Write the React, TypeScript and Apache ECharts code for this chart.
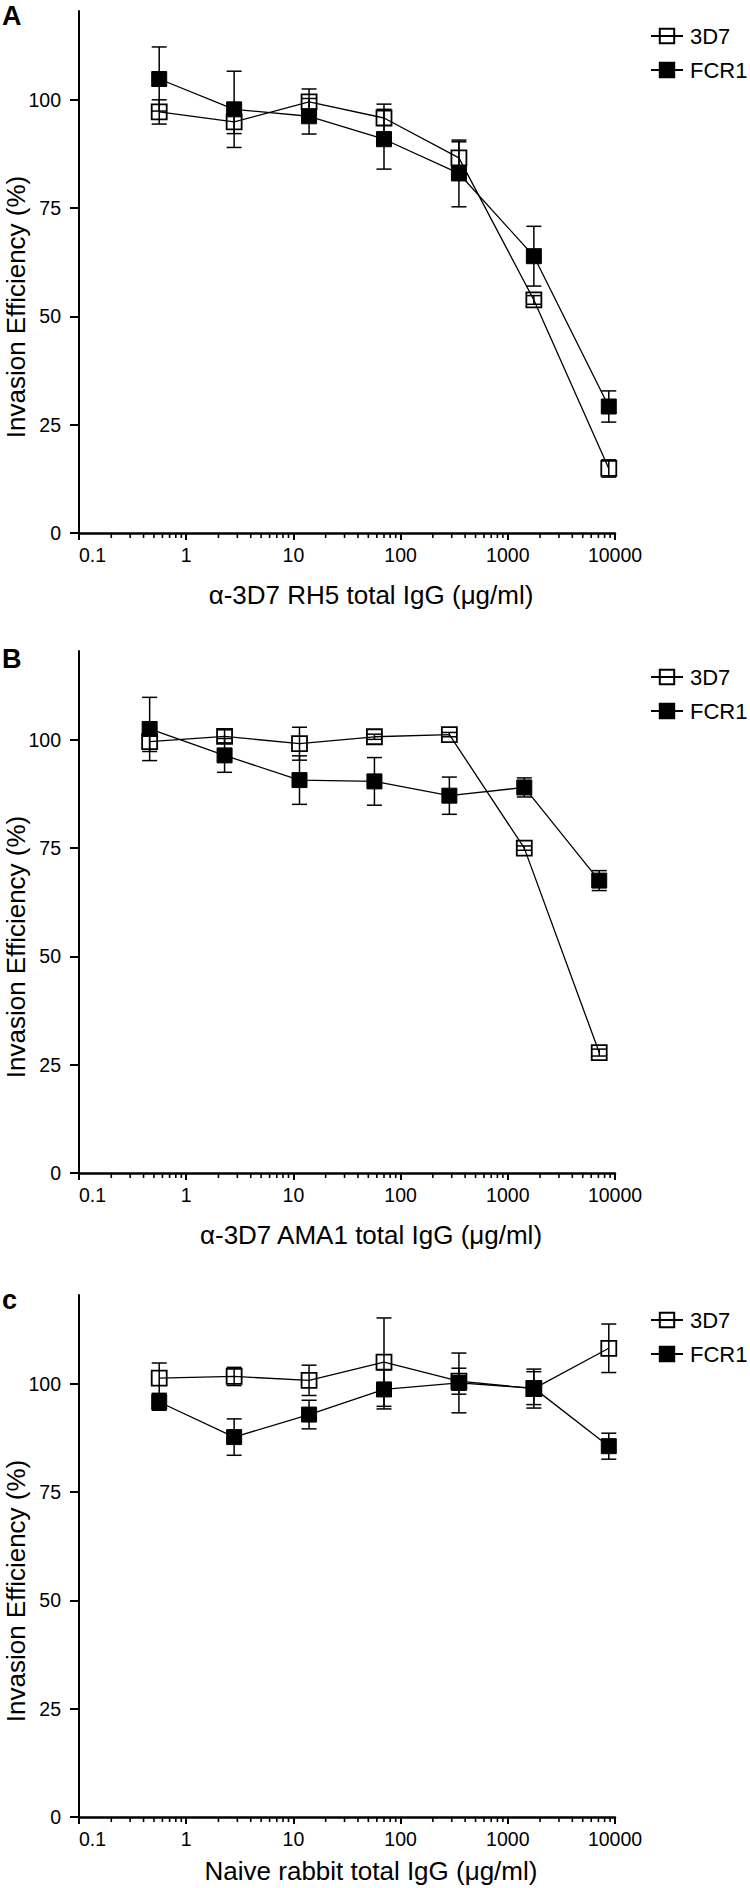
import React, { useEffect, useRef } from 'react';
import * as echarts from 'echarts';

// ---- Data ----
const xTickLabels = ['0.1', '1', '10', '100', '1000', '10000'];
const yTickValues = [0, 25, 50, 75, 100];
const minorTickValues = [
  0.2, 0.3, 0.4, 0.5, 0.6, 0.7, 0.8, 0.9,
  2, 3, 4, 5, 6, 7, 8, 9,
  20, 30, 40, 50, 60, 70, 80, 90,
  200, 300, 400, 500, 600, 700, 800, 900,
  2000, 3000, 4000, 5000, 6000, 7000, 8000, 9000,
];
const seriesNames = ['3D7', 'FCR1'];

// Panel A: anti-RH5
const concA = [0.56, 2.8, 14, 70, 350, 1750, 8750];
const a3D7 = [97.2, 94.9, 99.5, 95.8, 86.6, 53.8, 14.9];
const a3D7Err = [2.8, 2.7, 3.0, 3.2, 3.7, 1.0, 2.0];
const aFCR1 = [104.8, 97.8, 96.2, 90.9, 83.0, 63.9, 29.2];
const aFCR1Err = [7.4, 8.8, 4.1, 6.9, 7.7, 6.9, 3.6];

// Panel B: anti-AMA1
const concB = [0.456, 2.28, 11.4, 57, 285, 1425, 7125];
const b3D7 = [99.6, 100.8, 99.1, 100.7, 101.2, 75.0, 27.8];
const b3D7Err = [2.3, 1.5, 3.8, 0.6, 0.5, 0.5, 0.8];
const bFCR1 = [102.5, 96.4, 90.7, 90.4, 87.1, 89.0, 67.5];
const bFCR1Err = [7.3, 3.9, 5.6, 5.5, 4.3, 2.2, 2.3];

// Panel C: naive rabbit IgG
const concC = [0.56, 2.8, 14, 70, 350, 1750, 8750];
const c3D7 = [101.3, 101.7, 100.8, 105.0, 100.6, 98.9, 108.2];
const c3D7Err = [3.5, 2.1, 3.5, 10.2, 3.0, 4.5, 5.6];
const cFCR1 = [95.8, 87.7, 92.9, 98.7, 100.2, 99.0, 85.6];
const cFCR1Err = [1.9, 4.2, 3.3, 4.5, 6.9, 3.8, 3.0];

const panelLetters = ['A', 'B', 'c'];
const xTitles = [
  'α-3D7 RH5 total IgG (μg/ml)',
  'α-3D7 AMA1 total IgG (μg/ml)',
  'Naive rabbit total IgG (μg/ml)',
];
const yTitle = 'Invasion Efficiency (%)';

// ---- Layout ----
const FONT = "'Liberation Sans', Arial, Helvetica, sans-serif";
const gridTops = [11, 651, 1295];
const gridHeight = 522;
const gridLeft = 79;
const gridWidth = 536;
const yMax = 120.5;
const letterY = [15.5, 659, 1300];
const xTitleY = [595, 1235, 1871];
const legendTops = [20, 661, 1304];

const panels = [
  { conc: concA, s1: a3D7, e1: a3D7Err, s2: aFCR1, e2: aFCR1Err },
  { conc: concB, s1: b3D7, e1: b3D7Err, s2: bFCR1, e2: bFCR1Err },
  { conc: concC, s1: c3D7, e1: c3D7Err, s2: cFCR1, e2: cFCR1Err },
];

function errorRender(params: any, api: any) {
  const x = api.value(0);
  const lo = api.value(1);
  const hi = api.value(2);
  const pl = api.coord([x, lo]);
  const ph = api.coord([x, hi]);
  const w = 7.5;
  const st = { stroke: '#000', lineWidth: 1.5 };
  return {
    type: 'group',
    children: [
      { type: 'line', shape: { x1: pl[0], y1: pl[1], x2: ph[0], y2: ph[1] }, style: st },
      { type: 'line', shape: { x1: pl[0] - w, y1: pl[1], x2: pl[0] + w, y2: pl[1] }, style: st },
      { type: 'line', shape: { x1: ph[0] - w, y1: ph[1], x2: ph[0] + w, y2: ph[1] }, style: st },
    ],
  };
}

function minorTickRender(params: any, api: any) {
  const p = api.coord([api.value(0), 0]);
  return {
    type: 'line',
    shape: { x1: p[0], y1: p[1], x2: p[0], y2: p[1] + 5 },
    style: { stroke: '#000', lineWidth: 1.6 },
  };
}

export default function App() {
  const ref = useRef<HTMLDivElement>(null);
  useEffect(() => {
    if (!ref.current) return;
    const chart = echarts.init(ref.current, undefined, { renderer: 'svg' });

    const grids: any[] = [];
    const xAxes: any[] = [];
    const yAxes: any[] = [];
    const series: any[] = [];
    const legends: any[] = [];
    const graphics: any[] = [];

    panels.forEach((p, i) => {
      grids.push({ left: gridLeft, top: gridTops[i], width: gridWidth, height: gridHeight, containLabel: false });
      xAxes.push({
        type: 'log',
        gridIndex: i,
        logBase: 10,
        min: 0.1,
        max: 10000,
        splitNumber: 5,
        axisLine: { show: true, onZero: false, lineStyle: { color: '#000', width: 2.5 } },
        axisTick: { show: true, length: 7, lineStyle: { color: '#000', width: 2 } },
        axisLabel: {
          margin: 12,
          fontSize: 19.5,
          color: '#000',
          fontFamily: FONT,
          alignMinLabel: 'left',
          formatter: (v: number) => xTickLabels[Math.round(Math.log10(v)) + 1] ?? '',
        },
        splitLine: { show: false },
      });
      yAxes.push({
        type: 'value',
        gridIndex: i,
        min: 0,
        max: yMax,
        interval: 25,
        axisLine: { show: true, lineStyle: { color: '#000', width: 2 } },
        axisTick: { show: true, length: 9, lineStyle: { color: '#000', width: 2 }, customValues: yTickValues },
        axisLabel: { customValues: yTickValues, margin: 18, fontSize: 19.5, color: '#000', fontFamily: FONT },
        splitLine: { show: false },
      });

      series.push({
        type: 'custom',
        name: 'minor' + i,
        xAxisIndex: i,
        yAxisIndex: i,
        clip: false,
        silent: true,
        renderItem: minorTickRender,
        data: minorTickValues.map((v) => [v, 0]),
      });
      series.push({
        type: 'custom',
        name: 'err3D7_' + i,
        xAxisIndex: i,
        yAxisIndex: i,
        clip: false,
        silent: true,
        renderItem: errorRender,
        encode: { x: 0, y: [1, 2] },
        data: p.conc.map((c, j) => [c, p.s1[j] - p.e1[j], p.s1[j] + p.e1[j]]),
      });
      series.push({
        type: 'custom',
        name: 'errFCR1_' + i,
        xAxisIndex: i,
        yAxisIndex: i,
        clip: false,
        silent: true,
        renderItem: errorRender,
        encode: { x: 0, y: [1, 2] },
        data: p.conc.map((c, j) => [c, p.s2[j] - p.e2[j], p.s2[j] + p.e2[j]]),
      });
      series.push({
        type: 'line',
        name: seriesNames[0],
        xAxisIndex: i,
        yAxisIndex: i,
        symbol: 'rect',
        symbolSize: 15,
        showAllSymbol: true,
        clip: false,
        lineStyle: { color: '#000', width: 1.3 },
        itemStyle: { color: 'rgba(255,255,255,0)', borderColor: '#000', borderWidth: 1.8 },
        data: p.conc.map((c, j) => [c, p.s1[j]]),
        z: 3,
      });
      series.push({
        type: 'line',
        name: seriesNames[1],
        xAxisIndex: i,
        yAxisIndex: i,
        symbol: 'rect',
        symbolSize: 15,
        showAllSymbol: true,
        clip: false,
        lineStyle: { color: '#000', width: 1.3 },
        itemStyle: { color: '#000', borderColor: '#000', borderWidth: 1 },
        data: p.conc.map((c, j) => [c, p.s2[j]]),
        z: 3,
      });

      legends.push({
        left: 645,
        top: legendTops[i],
        orient: 'vertical',
        itemWidth: 32,
        itemHeight: 18,
        itemGap: 12,
        selectedMode: false,
        data: seriesNames,
        textStyle: { fontSize: 22, lineHeight: 22, color: '#000', fontFamily: FONT, padding: [0, 0, 0, 2] },
      });

      graphics.push({
        type: 'text',
        x: 2,
        y: letterY[i],
        style: {
          text: panelLetters[i],
          font: `bold 27px ${FONT}`,
          fill: '#000',
          textAlign: 'left',
          textVerticalAlign: 'middle',
        },
      });
      graphics.push({
        type: 'text',
        x: 16,
        y: gridTops[i] + gridHeight - 226,
        rotation: Math.PI / 2,
        style: {
          text: yTitle,
          font: `26px ${FONT}`,
          fill: '#000',
          textAlign: 'center',
          textVerticalAlign: 'middle',
        },
      });
      graphics.push({
        type: 'text',
        x: 371,
        y: xTitleY[i],
        style: {
          text: xTitles[i],
          font: `26px ${FONT}`,
          fill: '#000',
          textAlign: 'center',
          textVerticalAlign: 'middle',
        },
      });
    });

    chart.setOption({
      animation: false,
      backgroundColor: '#fff',
      grid: grids,
      xAxis: xAxes,
      yAxis: yAxes,
      legend: legends,
      series,
      graphic: graphics,
    });

    return () => chart.dispose();
  }, []);

  return (
    <div
      ref={ref}
      style={{ position: 'absolute', left: 0, top: 0, width: 750, height: 1888 }}
    />
  );
}
